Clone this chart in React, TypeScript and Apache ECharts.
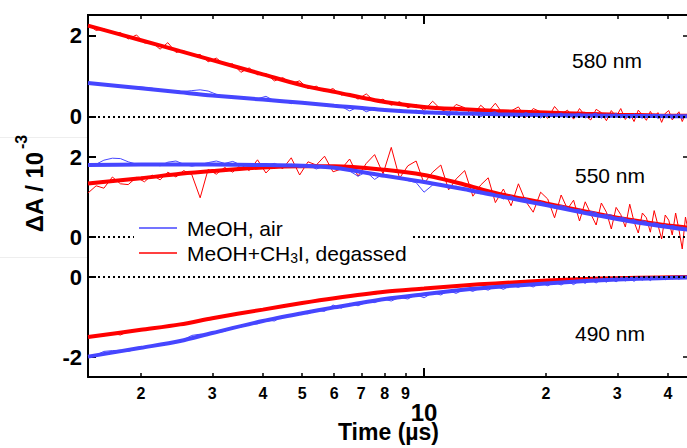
import { useEffect, useRef } from 'react';
import * as echarts from 'echarts';

// time axis of the measured traces (µs)
const T = [1.48, 1.55, 1.62, 1.7, 1.78, 1.86, 1.95, 2.04, 2.13, 2.23,
  2.33, 2.44, 2.55, 2.67, 2.8, 2.93, 3.07, 3.22, 3.37, 3.53,
  3.7, 3.88, 4.07, 4.27, 4.48, 4.7, 4.93, 5.17, 5.42, 5.68,
  5.96, 6.25, 6.55, 6.87, 7.2, 7.55, 7.92, 8.3, 8.7, 9.12,
  9.56, 10.0, 10.5, 11.0, 11.5, 12.0, 12.6, 13.2, 13.8, 14.4,
  15.0, 15.7, 16.4, 17.1, 17.8, 18.6, 19.4, 20.2, 21.0, 21.8,
  22.6, 23.4, 24.2, 25.0, 25.8, 26.6, 27.4, 28.2, 29.0, 29.8,
  30.6, 31.4, 32.2, 33.0, 33.8, 34.6, 35.4, 36.2, 37.0, 37.8,
  38.6, 39.4, 40.2, 41.0, 41.8, 42.6, 43.4, 44.2, 45.0];

// 580 nm
const n580Red = [2.26, 2.12, 2.16, 2.05, 2.07, 1.91, 2.01, 1.81, 1.82, 1.66,
  1.82, 1.58, 1.62, 1.50, 1.53, 1.35, 1.44, 1.28, 1.30, 1.09,
  1.20, 1.03, 1.06, 0.88, 0.96, 0.82, 0.88, 0.69, 0.75, 0.62,
  0.69, 0.53, 0.57, 0.43, 0.56, 0.38, 0.43, 0.28, 0.37, 0.22,
  0.30, 0.15, 0.38, 0.18, 0.10, 0.30, 0.22, 0.02, 0.28, 0.12,
  0.33, 0.05, 0.14, 0.24, -0.02, 0.20, 0.12, -0.04, 0.25, 0.06,
  0.16, -0.06, 0.20, 0.02, -0.08, 0.18, 0.10, -0.10, 0.15, 0.00,
  0.20, -0.07, 0.08, -0.12, 0.16, 0.04, -0.09, 0.13, -0.02, 0.10,
  -0.14, 0.08, 0.15, -0.08, 0.02, 0.12, -0.12, 0.06, -0.03];
const n580Blue = [0.84, 0.80, 0.78, 0.76, 0.76, 0.72, 0.74, 0.72, 0.70, 0.66,
  0.64, 0.63, 0.62, 0.64, 0.66, 0.63, 0.55, 0.49, 0.50, 0.46,
  0.47, 0.44, 0.50, 0.39, 0.40, 0.32, 0.36, 0.34, 0.30, 0.31,
  0.29, 0.25, 0.14, 0.24, 0.12, 0.20, 0.18, 0.13, 0.18, 0.10,
  0.16, 0.06, 0.13, 0.10, 0.02, 0.12, 0.06, 0.11, 0.00, 0.09,
  0.12, 0.01, 0.07, -0.01, 0.10, 0.04, -0.03, 0.08, 0.02, 0.09,
  -0.02, 0.05, 0.08, -0.03, 0.04, 0.09, -0.04, 0.06, 0.01, 0.08,
  -0.03, 0.05, -0.05, 0.07, 0.02, -0.04, 0.06, 0.00, 0.07, -0.05,
  0.04, -0.02, 0.06, -0.04, 0.03, 0.07, -0.05, 0.03, 0.05];

// 550 nm
const n550Red = [1.10, 1.28, 1.22, 1.50, 1.33, 1.31, 1.49, 1.38, 1.55, 1.43,
  1.62, 1.50, 1.66, 1.56, 0.98, 1.69, 1.57, 1.74, 1.62, 1.81,
  1.66, 1.93, 1.60, 1.82, 1.71, 1.98, 1.55, 1.88, 1.80, 2.02,
  1.63, 1.70, 1.95, 1.52, 1.84, 2.06, 1.58, 2.24, 1.47, 1.78,
  1.90, 1.34, 1.62, 1.80, 1.18, 1.45, 1.66, 1.02, 1.30, 1.48,
  0.86, 1.20, 0.78, 1.33, 0.90, 0.62, 1.12, 0.95, 0.48, 1.05,
  0.70, 0.92, 0.40, 0.88, 0.58, 0.30, 0.85, 0.62, 0.20, 0.74,
  0.56, 0.25, 0.82, 0.38, 0.10, 0.60, 0.48, 0.12, 0.66, 0.30,
  -0.05, 0.55, 0.42, 0.05, 0.60, 0.18, -0.30, 0.50, 0.10];
const n550Blue = [1.78, 1.82, 1.92, 1.97, 1.96, 1.88, 1.82, 1.79, 1.83, 1.78,
  1.87, 1.90, 1.82, 1.77, 1.81, 1.86, 1.90, 1.84, 1.89, 1.80,
  1.78, 1.83, 1.79, 1.84, 1.76, 1.82, 1.74, 1.80, 1.70, 1.78,
  1.71, 1.74, 1.65, 1.52, 1.63, 1.44, 1.58, 1.49, 1.50, 1.41,
  1.36, 1.12, 1.30, 1.34, 1.22, 1.27, 1.16, 1.20, 1.08, 1.12,
  1.06, 0.95, 1.03, 0.92, 0.97, 0.84, 0.88, 0.82, 0.72, 0.79,
  0.74, 0.66, 0.70, 0.60, 0.64, 0.61, 0.52, 0.57, 0.55, 0.44,
  0.50, 0.47, 0.40, 0.44, 0.35, 0.41, 0.38, 0.30, 0.36, 0.33,
  0.27, 0.32, 0.24, 0.29, 0.26, 0.20, 0.25, 0.17, 0.21];

// 490 nm
const n490Red = [-1.51, -1.46, -1.47, -1.41, -1.45, -1.36, -1.35, -1.30, -1.29, -1.25,
  -1.24, -1.19, -1.18, -1.13, -1.10, -1.04, -1.03, -0.97, -0.96, -0.92,
  -0.87, -0.85, -0.79, -0.78, -0.73, -0.71, -0.64, -0.64, -0.59, -0.57,
  -0.52, -0.52, -0.48, -0.46, -0.42, -0.43, -0.38, -0.35, -0.33, -0.32,
  -0.29, -0.30, -0.26, -0.27, -0.22, -0.24, -0.19, -0.21, -0.17, -0.19,
  -0.14, -0.17, -0.12, -0.15, -0.09, -0.13, -0.08, -0.11, -0.06, -0.10,
  -0.05, -0.09, -0.04, -0.08, -0.02, -0.07, -0.01, -0.06, -0.02, -0.05,
  0.00, -0.05, -0.01, -0.04, 0.01, -0.04, 0.00, -0.03, 0.02, -0.04,
  0.01, -0.03, 0.02, -0.03, 0.01, -0.02, 0.02, -0.02, 0.01];
const n490Blue = [-2.00, -1.95, -1.86, -1.84, -1.83, -1.86, -1.80, -1.77, -1.72, -1.71,
  -1.67, -1.63, -1.57, -1.46, -1.43, -1.44, -1.39, -1.36, -1.26, -1.25,
  -1.19, -1.17, -1.07, -1.10, -0.98, -0.99, -0.90, -0.92, -0.83, -0.86,
  -0.70, -0.78, -0.66, -0.72, -0.63, -0.64, -0.55, -0.60, -0.51, -0.55,
  -0.44, -0.52, -0.39, -0.45, -0.34, -0.41, -0.30, -0.36, -0.27, -0.33,
  -0.22, -0.31, -0.20, -0.26, -0.17, -0.25, -0.14, -0.22, -0.13, -0.20,
  -0.11, -0.19, -0.09, -0.16, -0.07, -0.15, -0.06, -0.13, -0.05, -0.12,
  -0.04, -0.10, -0.03, -0.11, -0.02, -0.08, -0.01, -0.09, -0.01, -0.06,
  0.01, -0.07, 0.00, -0.05, 0.01, -0.06, 0.02, -0.04, 0.00];

// fitted curves
const TF = [1.48, 2, 2.5, 3, 4, 5, 6, 8, 10, 12.5, 15, 20, 25, 30, 38, 45];
const fit580Red = [2.24, 1.88, 1.61, 1.39, 1.04, 0.77, 0.61, 0.36, 0.24, 0.18, 0.14, 0.10, 0.07, 0.05, 0.03, 0.02];
const fit580Blue = [0.83, 0.70, 0.60, 0.52, 0.42, 0.34, 0.27, 0.165, 0.11, 0.08, 0.06, 0.04, 0.03, 0.02, 0.015, 0.01];
const fit550Red = [1.34, 1.47, 1.58, 1.65, 1.74, 1.77, 1.77, 1.68, 1.55, 1.32, 1.10, 0.84, 0.64, 0.48, 0.32, 0.23];
const fit550Blue = [1.80, 1.81, 1.81, 1.81, 1.80, 1.78, 1.73, 1.53, 1.375, 1.20, 1.04, 0.80, 0.60, 0.45, 0.28, 0.18];
const fit490Red = [-1.50, -1.32, -1.185, -1.03, -0.815, -0.65, -0.53, -0.37, -0.29, -0.21, -0.16, -0.09, -0.05, -0.03, -0.01, 0.0];
const fit490Blue = [-1.99, -1.77, -1.60, -1.40, -1.10, -0.905, -0.76, -0.55, -0.43, -0.32, -0.25, -0.16, -0.10, -0.065, -0.03, -0.01];

const X_TICKS = [2, 3, 4, 5, 6, 7, 8, 9, 10, 20, 30, 40];
const X_MIN = 1.48;
const X_MAX = 45.1;
const PANEL_LABELS = ['580 nm', '550 nm', '490 nm'];
const LEGEND = ['MeOH, air', 'MeOH+CH{sub|3}I, degassed'];

const FONT = 'Arial, "Liberation Sans", Helvetica, sans-serif';
const RED = '#ff0000';
const BLUE = '#4646ff';

const lg = (t: number) => Math.log10(t);
const pairs = (ts: number[], vs: number[]) => ts.map((t, i) => [lg(t), vs[i]]);

function buildOption() {
  const xBase = { type: 'value', min: lg(X_MIN), max: lg(X_MAX), splitLine: { show: false } };
  const tickVals = X_TICKS.map(lg);
  const panels = [
    { red: n580Red, blue: n580Blue, fr: fit580Red, fb: fit580Blue, range: [-0.5, 2.5], left: [0, 2], right: [2] },
    { red: n550Red, blue: n550Blue, fr: fit550Red, fb: fit550Blue, range: [-0.5, 2.5], left: [0, 2], right: [2] },
    { red: n490Red, blue: n490Blue, fr: fit490Red, fb: fit490Blue, range: [-2.5, 0.5], left: [-2, 0], right: [-2] },
  ];
  const yAxis: any[] = [];
  const series: any[] = [];
  const xAxis: any[] = [];
  panels.forEach((p, g) => {
    xAxis.push({ ...xBase, gridIndex: g, show: false });
    yAxis.push({
      type: 'value', gridIndex: g, position: 'left', min: p.range[0], max: p.range[1],
      splitLine: { show: false },
      axisLine: { show: true, onZero: false, lineStyle: { color: '#000', width: 2 } },
      axisTick: { show: true, inside: true, length: 8, customValues: p.left, lineStyle: { color: '#000', width: 2 } },
      axisLabel: { show: true, customValues: p.left, color: '#000', fontSize: 22, fontWeight: 'bold', fontFamily: FONT, margin: 6 },
    });
    yAxis.push({
      type: 'value', gridIndex: g, position: 'right', min: p.range[0], max: p.range[1],
      splitLine: { show: false },
      axisLine: { show: false, onZero: false },
      axisTick: { show: true, inside: true, length: 6, customValues: p.right, lineStyle: { color: '#000', width: 1.5 } },
      axisLabel: { show: false },
    });
    const common = { type: 'line', xAxisIndex: g, yAxisIndex: 2 * g, showSymbol: false, symbol: 'none', silent: true };
    series.push({
      ...common, name: 'red data ' + g, data: pairs(T, p.red), lineStyle: { color: RED, width: 1 },
      markLine: {
        silent: true, symbol: ['none', 'none'], label: { show: false },
        lineStyle: { color: '#000', type: [2, 3], width: 2 }, data: [{ yAxis: 0 }],
      },
    });
    series.push({ ...common, name: 'red fit ' + g, data: pairs(TF, p.fr), smooth: 0.3, lineStyle: { color: RED, width: 4 } });
    series.push({ ...common, name: 'blue data ' + g, data: pairs(T, p.blue), lineStyle: { color: BLUE, width: 1 } });
    series.push({ ...common, name: 'blue fit ' + g, data: pairs(TF, p.fb), smooth: 0.3, lineStyle: { color: BLUE, width: 4 } });
  });
  yAxis.push({ type: 'value', gridIndex: 3, min: 0, max: 1, show: false });
  yAxis.push({ type: 'value', gridIndex: 4, min: 0, max: 1, show: false });

  const xLabelFmt = (v: number) => {
    const t = Math.round(Math.pow(10, v));
    if (t === 10) return '{big|10}';
    return String(t >= 10 ? t / 10 : t);
  };

  // frame axes on the full-height grids (index 3 and 4)
  xAxis.push({
    ...xBase, gridIndex: 3, position: 'bottom',
    axisLine: { show: true, onZero: false, lineStyle: { color: '#000', width: 2 } },
    axisTick: { show: true, inside: true, length: 4, customValues: tickVals, lineStyle: { color: '#000', width: 1.5 } },
    axisLabel: {
      show: true, customValues: tickVals, formatter: xLabelFmt, color: '#000', fontSize: 16,
      fontWeight: 'bold', fontFamily: FONT, margin: 8,
      rich: { big: { fontSize: 24, fontWeight: 'bold', fontFamily: FONT, color: '#000', padding: [15, 0, 0, 0] } },
    },
    name: 'Time (µs)', nameLocation: 'middle', nameGap: 43, nameMoveOverlap: false,
    nameTextStyle: { fontSize: 23, fontWeight: 'bold', color: '#000', fontFamily: FONT },
  });
  xAxis.push({
    ...xBase, gridIndex: 3, position: 'top',
    axisLine: { show: false, onZero: false },
    axisTick: { show: true, inside: true, length: 9, customValues: [lg(10)], lineStyle: { color: '#000', width: 2 } },
    axisLabel: { show: false },
  });
  xAxis.push({
    ...xBase, gridIndex: 4, position: 'top',
    axisLine: { show: true, onZero: false, lineStyle: { color: '#000', width: 2 } },
    axisTick: { show: true, inside: true, length: 4, customValues: tickVals, lineStyle: { color: '#000', width: 1.5 } },
    axisLabel: { show: false },
  });
  xAxis.push({
    ...xBase, gridIndex: 4, position: 'bottom',
    axisLine: { show: false, onZero: false },
    axisTick: { show: true, inside: true, length: 9, customValues: [lg(10)], lineStyle: { color: '#000', width: 2 } },
    axisLabel: { show: false },
  });

  const txt = (text: string, x: number, y: number, extra: any = {}) => ({
    type: 'text', x, y, z: 100,
    style: { text, fill: '#000', fontFamily: FONT, fontSize: 21, align: 'center', verticalAlign: 'middle', ...extra },
  });

  const graphic = [
    { type: 'line', z: 100, shape: { x1: 87, y1: 15, x2: 690, y2: 15 }, style: { stroke: '#000', lineWidth: 2 } },
    { type: 'line', z: 100, shape: { x1: 0, y1: 137.5, x2: 87, y2: 137.5 }, style: { stroke: '#eeeeee', lineWidth: 1 } },
    { type: 'line', z: 100, shape: { x1: 0, y1: 257.5, x2: 87, y2: 257.5 }, style: { stroke: '#eeeeee', lineWidth: 1 } },
    { type: 'rect', z: 90, shape: { x: 134, y: 222, width: 279, height: 40 }, style: { fill: '#fff' } },
    { type: 'line', z: 100, shape: { x1: 139, y1: 228, x2: 177, y2: 228 }, style: { stroke: BLUE, lineWidth: 1.5 } },
    { type: 'line', z: 100, shape: { x1: 139, y1: 253, x2: 177, y2: 253 }, style: { stroke: RED, lineWidth: 1.5 } },
    txt(LEGEND[0], 187, 228, { align: 'left' }),
    txt(LEGEND[1], 187, 253, {
      align: 'left',
      rich: { sub: { fontSize: 14, fontFamily: FONT, fill: '#000', padding: [10, 0, 0, 0] } },
    }),
    txt(PANEL_LABELS[0], 607, 60),
    txt(PANEL_LABELS[1], 610, 175),
    txt(PANEL_LABELS[2], 610, 333),
    { ...txt('ΔA / 10', 34, 192, { fontSize: 24, fontWeight: 'bold' }), rotation: Math.PI / 2 },
    { ...txt('-3', 21, 142, { fontSize: 16, fontWeight: 'bold' }), rotation: Math.PI / 2 },
  ];

  const gridBase = { left: 88, width: 601, containLabel: false, outerBoundsMode: 'none' };
  return {
    animation: false,
    backgroundColor: '#fff',
    grid: [
      { ...gridBase, top: 15, height: 122 },
      { ...gridBase, top: 137, height: 120 },
      { ...gridBase, top: 257, height: 120 },
      { ...gridBase, top: 15, height: 362 },
      { ...gridBase, top: 15, height: 362 },
    ],
    xAxis,
    yAxis,
    series,
    graphic,
  };
}

export default function App() {
  const ref = useRef<HTMLDivElement>(null);
  useEffect(() => {
    if (!ref.current) return;
    const chart = echarts.init(ref.current, undefined, { renderer: 'svg' });
    chart.setOption(buildOption() as any);
    return () => chart.dispose();
  }, []);
  return (
    <div style={{ position: 'absolute', left: 0, top: 0, width: 687, height: 448, overflow: 'hidden', background: '#fff' }}>
      <div ref={ref} style={{ width: 710, height: 448 }} />
    </div>
  );
}
